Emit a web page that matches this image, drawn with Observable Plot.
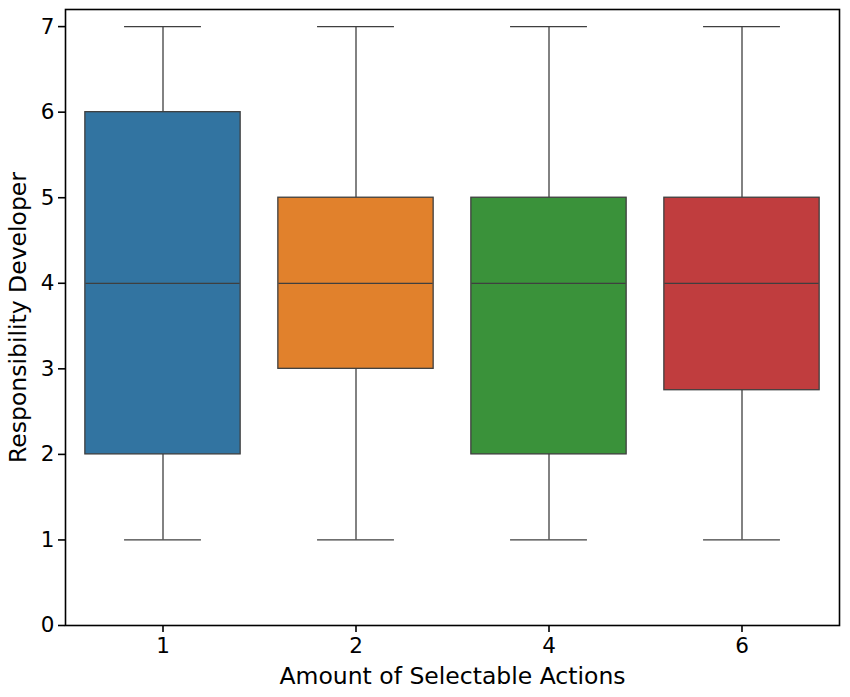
<!DOCTYPE html>
<html><head><meta charset="utf-8">
<script src="https://cdn.jsdelivr.net/npm/d3@7"></script>
<script src="https://cdn.jsdelivr.net/npm/@observablehq/plot@0.6"></script>
<style>body{margin:0;background:#fff;} svg{display:block;}</style>
</head><body><div id="chart"></div>
<script>
const categories = ["1", "2", "4", "6"];
const mins = [1, 1, 1, 1];
const q1s = [2, 3, 2, 2.75];
const medians = [4, 4, 4, 4];
const q3s = [6, 5, 5, 5];
const maxs = [7, 7, 7, 7];
const colors = ["#3274a1", "#e1812c", "#3a923a", "#c03d3e"];
const yTicks = [0, 1, 2, 3, 4, 5, 6, 7];

const data = categories.map((c, i) => ({cat: c, min: mins[i], q1: q1s[i], med: medians[i], q3: q3s[i], max: maxs[i]}));

const W = 850, H = 697;
const ml = 65, mr = 11, mt = 9, mb = 72;
const band = (W - ml - mr) / categories.length;
const boxInset = band * 0.1;
const capInset = band * 0.1 + band * 0.8 / 4;
const lineColor = "#3f3f3f";

const chart = Plot.plot({
  width: W, height: H,
  marginLeft: ml, marginRight: mr, marginTop: mt, marginBottom: mb,
  style: {fontFamily: "DejaVu Sans", fontSize: "21.5px", background: "#fff", color: "#000"},
  x: {type: "band", domain: categories, padding: 0, label: null},
  y: {domain: [0, 7.2], label: null},
  color: {domain: categories, range: colors},
  marks: [
    Plot.ruleX(data, {x: "cat", y1: "min", y2: "q1", stroke: lineColor, strokeWidth: 1.3}),
    Plot.ruleX(data, {x: "cat", y1: "q3", y2: "max", stroke: lineColor, strokeWidth: 1.3}),
    Plot.tickY(data, {x: "cat", y: "min", stroke: lineColor, strokeWidth: 1.3, insetLeft: capInset, insetRight: capInset}),
    Plot.tickY(data, {x: "cat", y: "max", stroke: lineColor, strokeWidth: 1.3, insetLeft: capInset, insetRight: capInset}),
    Plot.barY(data, {x: "cat", y1: "q1", y2: "q3", fill: "cat", stroke: lineColor, strokeWidth: 1.3, insetLeft: boxInset - 0.5, insetRight: boxInset - 0.5}),
    Plot.tickY(data, {x: "cat", y: "med", stroke: lineColor, strokeWidth: 1.3, insetLeft: boxInset, insetRight: boxInset}),
    Plot.frame({stroke: "#000", strokeWidth: 1.6}),
    Plot.axisY({ticks: yTicks, tickSize: 7, tickPadding: 4, fontSize: 21.5, label: null, stroke: "#000", strokeWidth: 1.6, tickFormat: d => String(d)}),
    Plot.axisX({tickSize: 7, tickPadding: 5, fontSize: 21.5, label: null, stroke: "#000", strokeWidth: 1.6}),
    Plot.text(["Amount of Selectable Actions"], {frameAnchor: "bottom", dy: 58, fontSize: 23.5, fill: "#000"}),
    Plot.text(["Responsibility Developer"], {frameAnchor: "left", textAnchor: "middle", dx: -47, rotate: -90, fontSize: 23.5, fill: "#000"})
  ]
});
document.getElementById("chart").appendChild(chart);
</script>
</body></html>
